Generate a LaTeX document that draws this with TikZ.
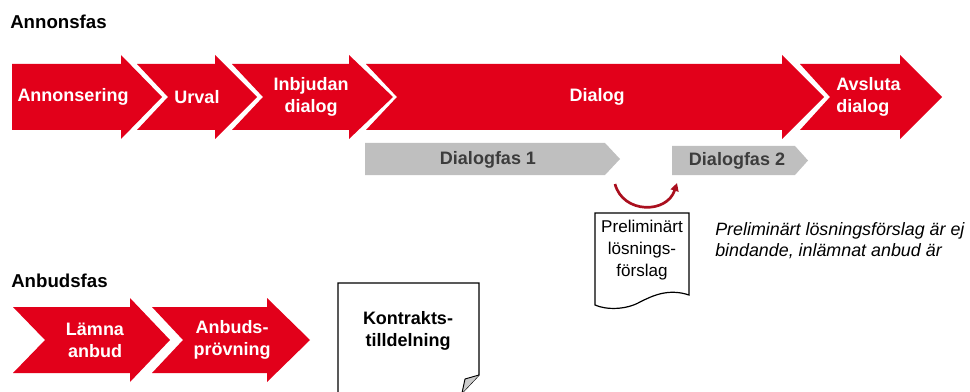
\documentclass[tikz,border=0pt]{standalone}
\usepackage{fontspec}
\setmainfont{Liberation Sans}
\usetikzlibrary{arrows.meta}
\definecolor{ared}{RGB}{226,0,26}
\definecolor{agray}{RGB}{191,191,191}
\definecolor{gtext}{RGB}{60,60,60}
\definecolor{dred}{RGB}{170,15,30}
\newcommand{\mychev}[5]{\fill[ared] (#1,#5-33) -- (#3,#5-33) -- (#3,#5-42) -- (#4,#5) -- (#3,#5+42) -- (#3,#5+33) -- (#1,#5+33) -- ({#1+#2},#5) -- cycle;}
\newcommand{\mygray}[5]{\fill[agray] (#1,#2) -- (#3,#2) -- (#4,{(#2+#5)/2}) -- (#3,#5) -- (#1,#5) -- cycle;}
\tikzset{
  redtxt/.style={text=white, font=\fontsize{13.5}{16.5}\selectfont\bfseries, align=center, inner sep=0pt},
  graytxt/.style={text=gtext, font=\fontsize{13.5}{16.5}\selectfont\bfseries, inner sep=0pt},
  title/.style={text=black, font=\fontsize{14}{16}\selectfont\bfseries, inner sep=0pt, anchor=base west},
  doctxt/.style={text=black, font=\fontsize{12.8}{16.5}\selectfont, align=center, inner sep=0pt},
  doctxtb/.style={text=black, font=\fontsize{13.5}{16.5}\selectfont\bfseries, align=center, inner sep=0pt},
  note/.style={text=black, font=\fontsize{13.4}{15.8}\selectfont\itshape, align=left, inner sep=0pt, anchor=west},
  docline/.style={draw=black, line width=0.9pt, fill=white, line join=miter}
}
\begin{document}
\begin{tikzpicture}[x=0.75pt,y=-0.75pt]
\useasboundingbox (0,0) rectangle (970,392);
% titles
\node[title] (t1) at (10,29) {Annonsfas};
\node[title] (t2) at (11,287) {Anbudsfas};
% top row chevrons
\mychev{12}{0}{121}{162}{97}
\mychev{137}{31}{215}{257}{97}
\mychev{232}{31}{349}{393}{97}
\mychev{366}{31}{782}{824}{97}
\mychev{800}{30}{900}{942}{97}
\node[redtxt] (a1) at (73,97) {Annonsering};
\node[redtxt] (a2) at (197,97) {Urval};
\node[redtxt] (a3) at (311,97) {Inbjudan\\dialog};
\node[redtxt] (a4) at (597,97) {Dialog};
\node[redtxt, align=left, anchor=west] (a5) at (836,97) {Avsluta\\dialog};
% gray phases
\mygray{365}{143}{605}{620}{175}
\mygray{672}{146}{795}{808}{175}
\node[graytxt] (g1) at (488,160) {Dialogfas 1};
\node[graytxt] (g2) at (737,161) {Dialogfas 2};
% curved arrow
\coordinate (c1) at (615,184);
\coordinate (c2) at (677,183);
\draw[dred, line width=2pt, -{Triangle[length=6pt,width=6pt]}] (c1) .. controls (623,214) and (667,214) .. (c2);
% preliminary document
\draw[docline] (595,213) -- (689,213) -- (689,295) .. controls (668,288) and (652,296) .. (640,302) .. controls (626,310) and (606,310) .. (595,305) -- cycle;
\node[doctxt] (d1) at (642,250) {Preliminärt\\lösnings-\\förslag};
\node[note] (n1) at (715,241) {Preliminärt lösningsförslag är ej\\bindande, inlämnat anbud är};
% bottom row chevrons
\mychev{13}{32}{130}{170}{340}
\mychev{152}{31}{267}{310}{340}
\node[redtxt] (b1) at (95,340) {Lämna\\anbud};
\node[redtxt] (b2) at (232,340) {Anbuds-\\prövning};
% contract document
\draw[docline] (338,393) -- (338,283) -- (479,283) -- (479,375) -- (462,393);
\fill[agray!80] (479,375) -- (465,379) -- (462,393) -- cycle;
\draw[line width=0.7pt] (479,375) -- (465,379) -- (462,393);
\node[doctxtb] (k1) at (408,331) {Kontrakts-\\tilldelning};
\end{tikzpicture}
\end{document}
